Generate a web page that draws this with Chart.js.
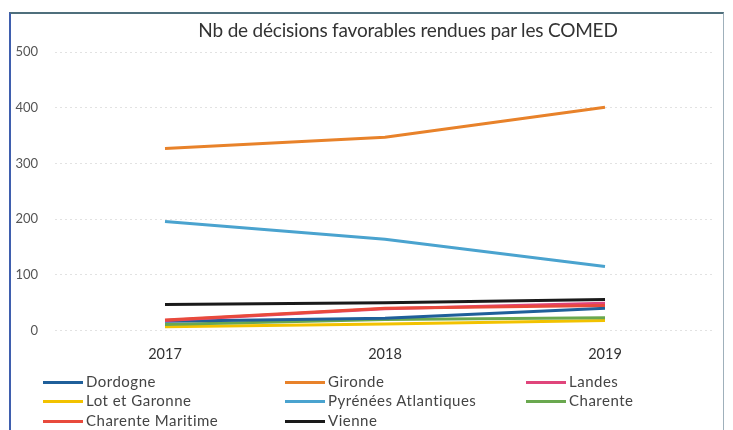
<!DOCTYPE html>
<html><head><meta charset="utf-8">
<script src="https://cdn.jsdelivr.net/npm/chart.js@4.4.1/dist/chart.umd.min.js"></script>
<style>
html,body{margin:0;padding:0;background:#fff;}
#wrap{position:relative;width:733px;height:430px;overflow:hidden;font-family:Lato,"Open Sans",sans-serif;}
#frame{position:absolute;left:9px;top:12px;width:712px;height:440px;border-top:2px solid #4f6f7c;border-left:2px solid #3f5fae;border-right:1px solid #9fb0bb;}
#cv{position:absolute;left:0;top:0;}
#title{position:absolute;left:108px;width:600px;top:19px;text-align:center;font-family:Lato;font-size:19px;color:#333;line-height:22px;white-space:nowrap;letter-spacing:-0.2px;}
#legend{position:absolute;left:0;top:0;width:733px;height:430px;pointer-events:none;}
.li{position:absolute;font-size:15px;letter-spacing:0.5px;color:#444;white-space:nowrap;line-height:18px;}
.li span.sw{display:inline-block;width:40px;height:3px;vertical-align:middle;margin-right:3px;position:relative;top:-1px;}
</style></head>
<body><div id="wrap"><div id="frame"></div><canvas id="cv" width="733" height="376"></canvas><div id="title"></div><div id="legend"></div></div>
<script>
const chartTitle = "Nb de décisions favorables rendues par les COMED";
const years = ["2017","2018","2019"];
const seriesNames = ["Dordogne","Gironde","Landes","Lot et Garonne","Pyrénées Atlantiques","Charente","Charente Maritime","Vienne"];
const dordogne = [17, 22, 40];
const gironde = [327, 347, 401];
const landes = [18, 39, 49];
const lotEtGaronne = [7, 12, 18];
const pyreneesAtlantiques = [196, 164, 115];
const charente = [11, 20, 23];
const charenteMaritime = [19, 40, 45];
const vienne = [47, 50, 56];
const yTicks = [0, 100, 200, 300, 400, 500];
const colors = ["#1f5f9a","#e8822a","#e0457b","#f2c200","#4aa3cf","#6aa84f","#e84a3c","#1a1a1a"];
const values = [dordogne, gironde, landes, lotEtGaronne, pyreneesAtlantiques, charente, charenteMaritime, vienne];
const drawOrder = [4,1,6,2,7,0,5,3];

document.getElementById('title').textContent = chartTitle;

const datasets = seriesNames.map((n,i)=>({label:n,data:values[i],borderColor:colors[i],backgroundColor:colors[i],borderWidth:3,pointRadius:0,tension:0,fill:false,order:drawOrder.indexOf(i)}));

new Chart(document.getElementById('cv'),{
  type:'line',
  data:{labels:years,datasets:datasets},
  options:{
    responsive:false,animation:false,
    layout:{padding:{left:8,right:18,top:52,bottom:6}},
    plugins:{
      legend:{display:false},
      tooltip:{enabled:false},
      title:{display:false}
    },
    scales:{
      x:{offset:true,grid:{display:false},border:{display:false},
         ticks:{color:"#333",font:{family:"Lato",size:14.5},padding:7}},
      y:{min:0,max:500,afterBuildTicks:(s)=>{s.ticks=yTicks.map(v=>({value:v}));},
         afterFit:(s)=>{s.width=47;},
         grid:{color:"#e2e2e2",lineWidth:1,drawTicks:false},border:{display:false,dash:[2,3]},
         ticks:{color:"#555",font:{family:"Lato",size:13},padding:17}}
    }
  }
});

const legendPos = [[43,381],[285,381],[526,381],[43,400],[285,400],[526,400],[43,420],[285,420]];
const lg = document.getElementById('legend');
seriesNames.forEach((n,i)=>{
  const d=document.createElement('div');d.className='li';
  d.style.left=legendPos[i][0]+'px';d.style.top=(legendPos[i][1]-9)+'px';
  d.innerHTML='<span class="sw" style="background:'+colors[i]+'"></span>'+n;
  lg.appendChild(d);
});
</script></body></html>
